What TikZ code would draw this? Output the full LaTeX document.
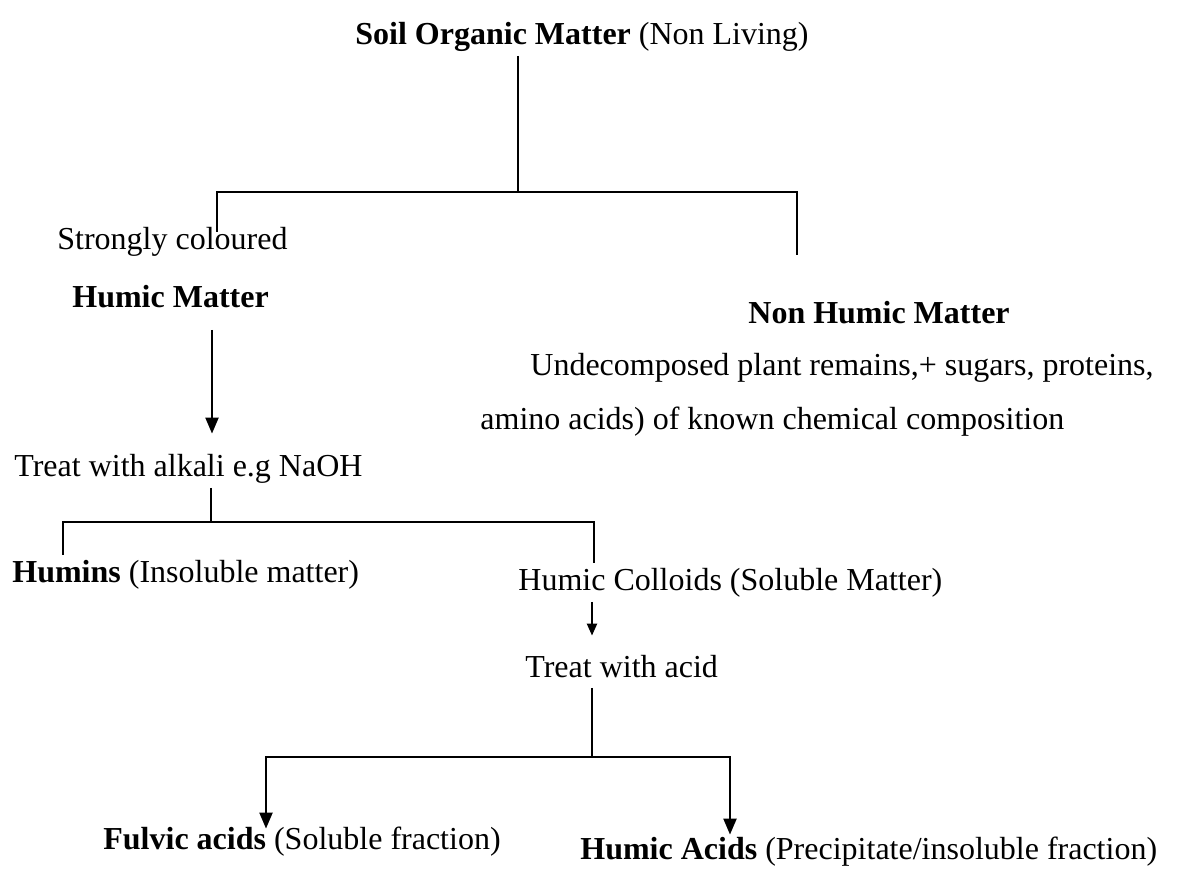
\documentclass[tikz,border=0pt]{standalone}
\usepackage{fontspec}
\setmainfont{Liberation Serif}
\usepackage{tikz}
\usetikzlibrary{arrows.meta}

\begin{document}
\begin{tikzpicture}[x=0.5pt, y=-0.5pt,
    every node/.style={anchor=base west, inner sep=3pt, text height=0.7em, text depth=0.22em,
      font=\fontsize{16}{19}\selectfont},
    line/.style={line width=1.1pt},
    arr/.style={line width=1.1pt, -{Triangle[width=6.5pt,length=8pt]}},
    smallarr/.style={line width=1.1pt, -{Triangle[width=5pt,length=6pt]}}]

%      \draw[help lines] (0,0) grid[step=50] (1180,877);
      \useasboundingbox (0,0) rectangle (1180,877);

      \node (soil) at (349,45) {\textbf{Soil Organic Matter} (Non Living)};
      \node (strong) at (51,250) {Strongly coloured};
      \node (humic) at (66,308) {\textbf{Humic Matter}};
      \node (nonhumic) at (742,324) {\textbf{Non Humic Matter}};
      \node (undec) at (524,376) {Undecomposed plant remains,+ sugars, proteins,};
      \node (amino) at (474,430) {amino acids) of known chemical composition};
      \node (alkali) at (8,477) {Treat with alkali e.g NaOH};
      \node (humins) at (6,582) {\textbf{Humins} (Insoluble matter)};
      \node (colloids) at (512,591) {Humic Colloids (Soluble Matter)};
      \node (acid) at (519,677) {Treat with acid};
      \node (fulvic) at (97,849) {\textbf{Fulvic acids} (Soluble fraction)};
      \node (acids) at (574,859) {\textbf{Humic Acids} (Precipitate/insoluble fraction)};

      \coordinate (j1) at (518,192);
      \coordinate (l1) at (217,232);
      \coordinate (r1) at (797,255);
      \draw[line] (soil.south -| j1) -- (j1);
      \draw[line] (l1) |- (j1) -| (r1);

      \coordinate (c1) at (212,330);
      \draw[arr, shorten >=11.5pt] (c1) -- (alkali.north -| c1);

      \coordinate (j2) at (211,522);
      \coordinate (l2) at (63,555);
      \coordinate (r2) at (594,563);
      \draw[line] (alkali.south -| j2) -- (j2);
      \draw[line] (l2) |- (j2) -| (r2);

      \coordinate (c2) at (592,600);
      \draw[smallarr, shorten >=10.5pt] (colloids.south -| c2) -- (acid.north -| c2);

      \coordinate (j3) at (592,757);
      \coordinate (l3) at (266,820);
      \coordinate (r3) at (730,827);
      \draw[line] (acid.south -| j3) -- (j3);
      \draw[arr] (j3) -| (fulvic.north -| l3);
      \draw[arr, shorten >=2pt] (j3) -| (acids.north -| r3);
    \end{tikzpicture}
\end{document}
